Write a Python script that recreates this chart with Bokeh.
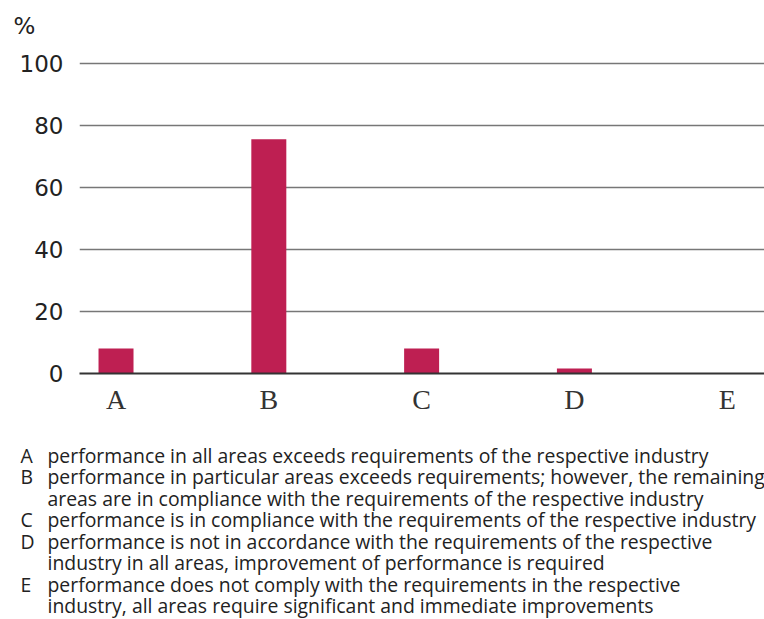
from bokeh.plotting import figure
from bokeh.layouts import column
from bokeh.models import Range1d, FixedTicker, Label, ColumnDataSource
from bokeh.embed import file_html
from bokeh.resources import INLINE

categories = ["A", "B", "C", "D", "E"]
values = [8.1, 75.6, 8.1, 1.6, 0.0]
y_ticks = [0, 20, 40, 60, 80, 100]
legend_keys = ["A", "B", "", "C", "D", "", "E", ""]
legend_lines = [
    "performance in all areas exceeds requirements of the respective industry",
    "performance in particular areas exceeds requirements; however, the remaining",
    "areas are in compliance with the requirements of the respective industry",
    "performance is in compliance with the requirements of the respective industry",
    "performance is not in accordance with the requirements of the respective",
    "industry in all areas, improvement of performance is required",
    "performance does not comply with the requirements in the respective",
    "industry, all areas require significant and immediate improvements",
]

W, H = 764, 619
H1 = 426          # chart part
H2 = H - H1       # legend part
FL, FT, FB = 79, 40, 373  # frame left / top / bottom on the canvas
PX_PER_UNIT = 3.1
positions = list(range(len(categories)))
src = ColumnDataSource(dict(x=positions, top=values))

p = figure(width=W, height=H1, output_backend="svg", toolbar_location=None,
           x_range=Range1d(-0.239, 4.244),
           y_range=Range1d(0, (FB - FT) / PX_PER_UNIT),
           min_border_left=FL, min_border_right=0, min_border_top=FT,
           min_border_bottom=H1 - FB)
p.frame_align = False
p.outline_line_color = None
p.background_fill_color = "white"
p.border_fill_color = "white"

p.title.text = "%"
p.title.align = "left"
p.title.offset = 13 - FL
p.title.standoff = 3
p.title.text_font = "DejaVu Sans"
p.title.text_font_size = "23px"
p.title.text_font_style = "normal"
p.title.text_color = "#222222"

p.vbar(x="x", top="top", width=0.229, source=src, color="#BE1F52", line_color=None)

# Y axis
p.yaxis.ticker = FixedTicker(ticks=y_ticks)
p.yaxis.axis_line_color = None
p.yaxis.major_tick_line_color = None
p.yaxis.major_tick_out = 0
p.yaxis.major_tick_in = 0
p.yaxis.minor_tick_line_color = None
p.yaxis.major_label_text_font = "DejaVu Sans"
p.yaxis.major_label_text_font_size = "23px"
p.yaxis.major_label_text_color = "#222222"
p.yaxis.major_label_standoff = 16

# X axis
p.xaxis.ticker = FixedTicker(ticks=positions)
p.xaxis.major_label_overrides = {i: c for i, c in enumerate(categories)}
p.xaxis.axis_line_color = "#333333"
p.xaxis.axis_line_width = 2
p.xaxis.major_tick_line_color = None
p.xaxis.major_tick_out = 0
p.xaxis.major_tick_in = 0
p.xaxis.minor_tick_line_color = None
p.xaxis.major_label_text_font = "Liberation Serif"
p.xaxis.major_label_text_font_size = "28px"
p.xaxis.major_label_text_color = "#333333"
p.xaxis.major_label_standoff = 10

p.xgrid.grid_line_color = None
p.ygrid.ticker = FixedTicker(ticks=y_ticks)
p.ygrid.grid_line_color = "#777777"
p.ygrid.grid_line_width = 1.5

# legend text block: a figure whose frame fills its canvas
q = figure(width=W, height=H2, output_backend="svg", toolbar_location=None,
           x_range=Range1d(0, W), y_range=Range1d(0, H2),
           min_border=0, x_axis_type=None, y_axis_type=None)
q.frame_align = False
q.outline_line_color = None
q.xgrid.grid_line_color = None
q.ygrid.grid_line_color = None

def put(text, cx, cy, size, font):
    q.add_layout(Label(x=cx, y=H2 - (cy - H1), x_units="screen", y_units="screen",
                       text=text, text_font=font, text_font_size=size,
                       text_color="#222222", text_baseline="alphabetic"))

base0 = 455
step = 21.45
for i, (k, line) in enumerate(zip(legend_keys, legend_lines)):
    by = base0 + i * step
    if k:
        put(k, 20, by, "19.4px", "Open Sans")
    put(line, 47, by, "19.4px", "Open Sans")

open("out.html", "w").write(file_html(column(p, q, spacing=0), INLINE))
